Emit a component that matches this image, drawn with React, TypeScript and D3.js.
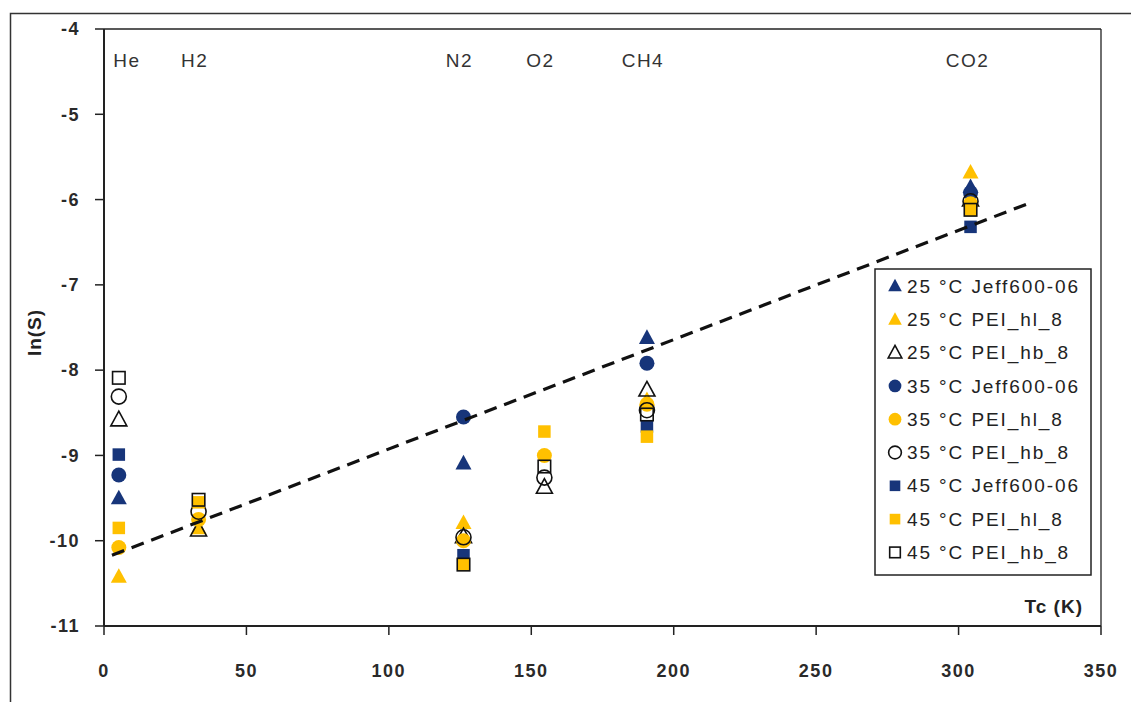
import React from "react";
import * as d3 from "d3";

const gases = ["He", "H2", "N2", "O2", "CH4", "CO2"];
const tcValues = [5.2, 33.2, 126.2, 154.6, 190.6, 304.2];

const s25Jeff = [-9.5, null, -9.09, null, -7.62, -5.85];
const s25hl = [-10.42, -9.85, -9.79, null, -8.35, -5.68];
const s25hb = [-8.58, -9.87, -9.95, -9.37, -8.23, -6.0];
const s35Jeff = [-9.23, null, -8.55, null, -7.92, -5.92];
const s35hl = [-10.08, -9.75, -10.0, -9.0, -8.4, -6.05];
const s35hb = [-8.31, -9.66, -9.96, -9.26, -8.47, -6.02];
const s45Jeff = [-8.99, null, -10.17, null, -8.66, -6.32];
const s45hl = [-9.85, -9.55, -10.28, -8.72, -8.78, -6.12];
const s45hb = [-8.09, -9.52, -10.28, -9.13, -8.52, -6.12];

const seriesNames = [
  "25 °C Jeff600-06",
  "25 °C PEI_hl_8",
  "25 °C PEI_hb_8",
  "35 °C Jeff600-06",
  "35 °C PEI_hl_8",
  "35 °C PEI_hb_8",
  "45 °C Jeff600-06",
  "45 °C PEI_hl_8",
  "45 °C PEI_hb_8",
];
const seriesValues = [s25Jeff, s25hl, s25hb, s35Jeff, s35hl, s35hb, s45Jeff, s45hl, s45hb];
const seriesShapes = ["tri", "tri", "tri", "circ", "circ", "circ", "sq", "sq", "sq"];
const seriesKinds = ["navy", "gold", "open", "navy", "gold", "open", "navy", "gold", "open"];

const trendTc = [2.8, 325];
const trendLnS = [-10.17, -6.04];

const xTicks = [0, 50, 100, 150, 200, 250, 300, 350];
const yTicks = [-4, -5, -6, -7, -8, -9, -10, -11];

const NAVY = "#17357A";
const GOLD = "#FFC000";
const FONT = "'Liberation Sans', Arial, sans-serif";

function Marker({ shape, kind, x, y, scale = 1 }: any) {
  const fill = kind === "navy" ? NAVY : kind === "gold" ? GOLD : "none";
  const stroke = kind === "open" ? "#111" : "none";
  const sw = kind === "open" ? 1.6 : 0;
  if (shape === "tri") {
    const h = 14 * scale;
    const w = 16 * scale;
    const p = `${x},${y - h * 0.6} ${x + w / 2},${y + h * 0.45} ${x - w / 2},${y + h * 0.45}`;
    return <polygon points={p} fill={fill} stroke={stroke} strokeWidth={sw} strokeLinejoin="miter" />;
  }
  if (shape === "circ") {
    return <circle cx={x} cy={y} r={7.5 * scale} fill={fill} stroke={stroke} strokeWidth={sw} />;
  }
  const s = 12.5 * scale;
  return <rect x={x - s / 2} y={y - s / 2} width={s} height={s} fill={fill} stroke={stroke} strokeWidth={sw} />;
}

export default function App() {
  const left = 104, right = 1101, top = 29, bottom = 626;
  const x = d3.scaleLinear().domain([0, 350]).range([left, right]);
  const y = d3.scaleLinear().domain([-11, -4]).range([bottom, top]);

  const legX = 875, legY = 269, legW = 216, legH = 306;
  const rowH = 33.3;

  return (
    <svg width={1131} height={702} style={{ position: "absolute", left: 0, top: 0, background: "#fff" }}>
      <rect x={0} y={0} width={1131} height={702} fill="#fff" />
      <rect x={10.5} y={13.5} width={1130} height={700} fill="none" stroke="#333" strokeWidth={1.5} />
      <line x1={left} x2={right} y1={top} y2={top} stroke="#222" strokeWidth={1.3} />
      <line x1={right} x2={right} y1={top} y2={bottom} stroke="#222" strokeWidth={1.3} />
      <line x1={left} x2={left} y1={top} y2={bottom} stroke="#222" strokeWidth={2} />
      <line x1={left} x2={right} y1={bottom} y2={bottom} stroke="#222" strokeWidth={2} />
      {yTicks.map((t) => (
        <g key={"y" + t}>
          <line x1={left - 9} x2={left} y1={y(t)} y2={y(t)} stroke="#222" strokeWidth={1.5} />
          <text x={80} y={y(t)} dy="0.35em" textAnchor="end" fontFamily={FONT} fontSize={18} fontWeight="bold" letterSpacing={1.5} fill="#2a2a2a">
            {t}
          </text>
        </g>
      ))}
      {xTicks.map((t) => (
        <g key={"x" + t}>
          <line x1={x(t)} x2={x(t)} y1={bottom} y2={bottom + 9} stroke="#222" strokeWidth={1.5} />
          <text x={x(t)} y={671} dy="0.35em" textAnchor="middle" fontFamily={FONT} fontSize={18} fontWeight="bold" letterSpacing={1.5} fill="#2a2a2a">
            {t}
          </text>
        </g>
      ))}
      <text transform={`translate(34,${(top + bottom) / 2 + 5}) rotate(-90)`} textAnchor="middle" dy="0.35em" fontFamily={FONT} fontSize={19} fontWeight="bold" letterSpacing={1} fill="#222">
        ln(S)
      </text>
      <text x={1083} y={606} dy="0.35em" textAnchor="end" fontFamily={FONT} fontSize={19} fontWeight="bold" letterSpacing={1} fill="#222">
        Tc (K)
      </text>
      {gases.map((g, i) => (
        <text key={g} x={x(tcValues[i]) + (i === 0 ? 8 : i === 5 ? -3 : -4)} y={60} dy="0.35em" textAnchor="middle" fontFamily={FONT} fontSize={19} letterSpacing={1.5} fill="#333">
          {g}
        </text>
      ))}
      {seriesValues.map((vals, si) => (
        <g key={"s" + si}>
          {vals.map((v, gi) =>
            v === null ? null : (
              <Marker key={gi} shape={seriesShapes[si]} kind={seriesKinds[si]} x={x(tcValues[gi])} y={y(v as number)} />
            )
          )}
        </g>
      ))}
      <line
        x1={x(trendTc[0])}
        y1={y(trendLnS[0])}
        x2={x(trendTc[1])}
        y2={y(trendLnS[1])}
        stroke="#111"
        strokeWidth={3.2}
        strokeDasharray="13,8"
      />
      <rect x={legX} y={legY} width={legW} height={legH} fill="#fff" stroke="#222" strokeWidth={1.5} />
      {seriesNames.map((n, i) => {
        const cy = legY + 17 + i * rowH;
        return (
          <g key={n}>
            <Marker shape={seriesShapes[i]} kind={seriesKinds[i]} x={legX + 20} y={cy} scale={0.85} />
            <text x={legX + 32} y={cy} dy="0.35em" fontFamily={FONT} fontSize={19} letterSpacing={1.9} fill="#222">
              {n}
            </text>
          </g>
        );
      })}
    </svg>
  );
}
